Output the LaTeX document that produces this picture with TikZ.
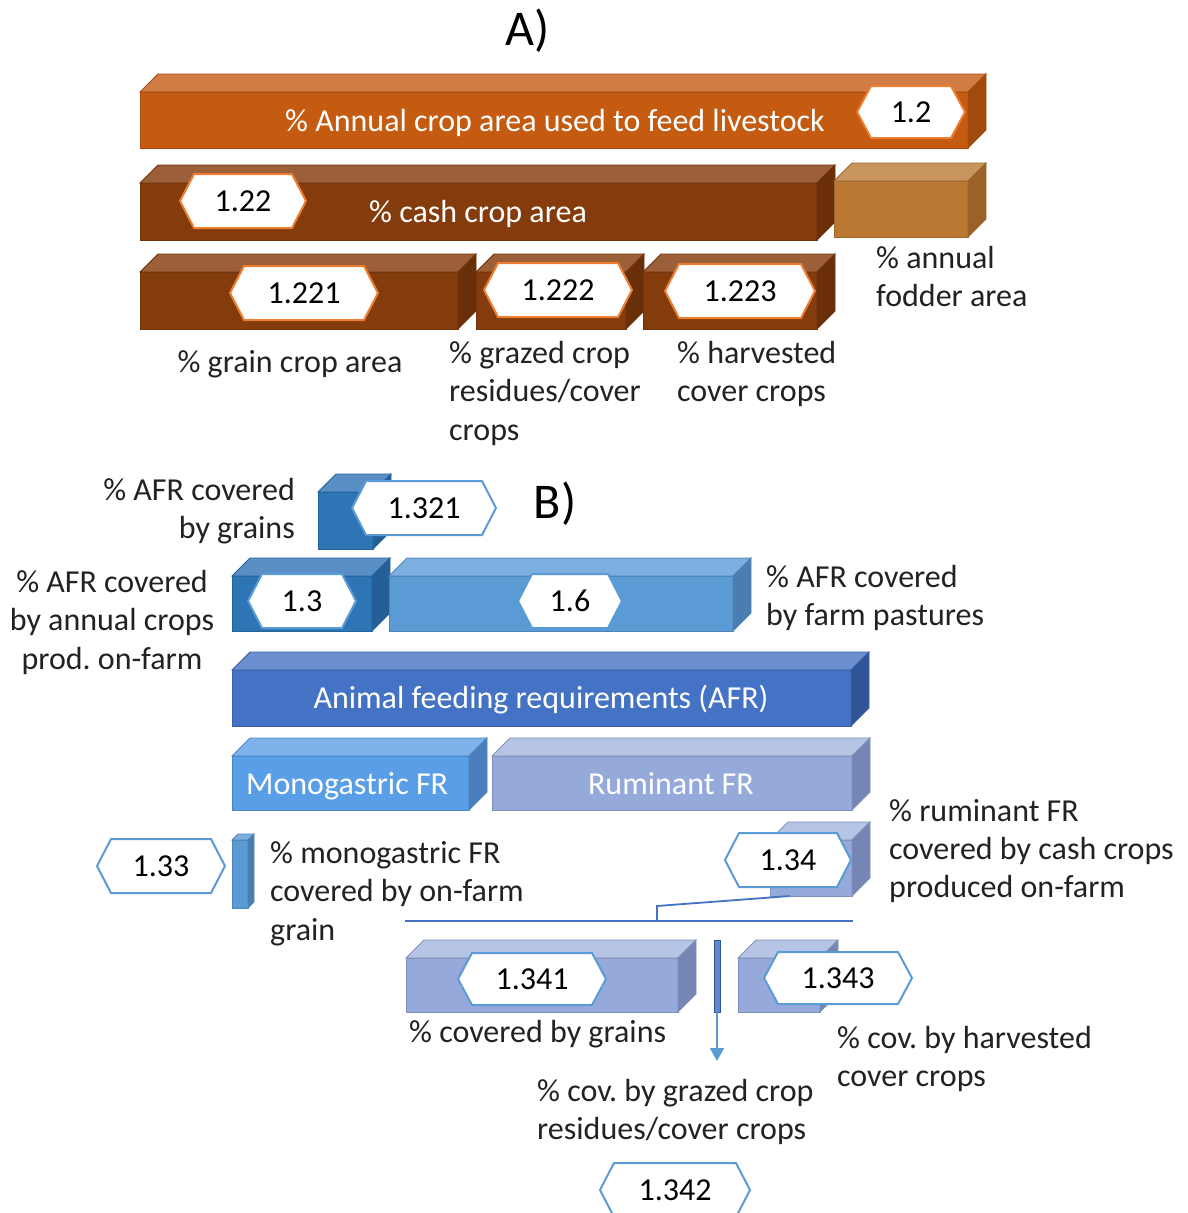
\documentclass[tikz,border=0pt]{standalone}
\usepackage{fontspec}
\setmainfont{Carlito}
\frenchspacing
\usetikzlibrary{arrows.meta}
\definecolor{orF}{HTML}{C55A11}\definecolor{orT}{HTML}{D27C45}\definecolor{orS}{HTML}{A04A0E}
\definecolor{brF}{HTML}{843C0C}\definecolor{brT}{HTML}{9C6038}\definecolor{brS}{HTML}{692F09}
\definecolor{tnF}{HTML}{BA7833}\definecolor{tnT}{HTML}{C9955E}\definecolor{tnS}{HTML}{9A6228}
\definecolor{dbF}{HTML}{2E75B6}\definecolor{dbT}{HTML}{5A8FC6}\definecolor{dbS}{HTML}{245F98}
\definecolor{pbF}{HTML}{5B9BD5}\definecolor{pbT}{HTML}{7DAFE0}\definecolor{pbS}{HTML}{4A7EB0}
\definecolor{afF}{HTML}{4472C4}\definecolor{afT}{HTML}{6A8ECF}\definecolor{afS}{HTML}{2F5597}
\definecolor{moF}{HTML}{599EE6}\definecolor{moT}{HTML}{7EB2EA}\definecolor{moS}{HTML}{4A7FBC}
\definecolor{ruF}{HTML}{95A9DA}\definecolor{ruT}{HTML}{B6C4E6}\definecolor{ruS}{HTML}{7586B5}
\definecolor{hexO}{HTML}{ED7D31}\definecolor{hexB}{HTML}{5B9BD5}
\definecolor{lbl}{HTML}{222222}
\newcommand\cubebox[8]{%
  \filldraw[fill=#6,draw=#6!85!black,line width=0.8pt] (#1,#2) rectangle (#3,#4);
  \filldraw[fill=#7,draw=#6!85!black,line width=0.8pt] (#1,#2) -- ({#1+#5},{#2-#5}) -- ({#3+#5},{#2-#5}) -- (#3,#2) -- cycle;
  \filldraw[fill=#8,draw=#6!85!black,line width=0.8pt] (#3,#2) -- ({#3+#5},{#2-#5}) -- ({#3+#5},{#4-#5}) -- (#3,#4) -- cycle;
}
\newcommand\hexlab[7]{%
  \filldraw[fill=white,draw=#6,line width=2pt] ({#2-#4},#3) -- ({#2-#4+14},{#3-#5}) -- ({#2+#4-14},{#3-#5}) -- ({#2+#4},#3) -- ({#2+#4-14},{#3+#5}) -- ({#2-#4+14},{#3+#5}) -- cycle;
  \node[numtext] (#1) at (#2,{#3+10}) {#7};
}
\tikzset{
  base/.style={inner sep=0pt,font=\fontsize{32}{38.5}\selectfont},
  numtext/.style={base,anchor=base,text=black},
  intext/.style={base,anchor=base,text=white},
  lblL/.style={base,anchor=base west,text=lbl},
  lblC/.style={base,anchor=base,text=lbl},
  lblR/.style={base,anchor=base east,text=lbl},
  title/.style={inner sep=0pt,anchor=base,font=\fontsize{50}{60}\selectfont,text=black},
  conn/.style={draw=afF,line width=1.8pt},
}
\begin{document}
\begin{tikzpicture}[x=1pt,y=-1pt]
\fill[white] (0,0) rectangle (1187,1213);
\useasboundingbox (0,0) rectangle (1187,1213);
\clip (0,0) rectangle (1187,1213);
% ---------- A ----------
\node[title] (tA) at (528,45) {A)};
\cubebox{140}{92}{968}{148}{18}{orF}{orT}{orS}
\node[intext] (tAnnual) at (555,131) {\% Annual crop area used to feed livestock};
\hexlab{h12}{911}{112}{54}{26}{hexO}{1.2}
\cubebox{140}{183}{817}{240}{18}{brF}{brT}{brS}
\node[intext] (tCash) at (478,222) {\% cash crop area};
\hexlab{h122}{243}{201}{63}{27}{hexO}{1.22}
\cubebox{834}{181}{968}{237}{18}{tnF}{tnT}{tnS}
\node[lblL] (tFod1) at (876,268) {\% annual};
\node[lblL] (tFod2) at (876,306) {fodder area};
\cubebox{140}{272}{458}{329}{18}{brF}{brT}{brS}
\cubebox{476}{272}{626}{329}{18}{brF}{brT}{brS}
\cubebox{643}{272}{817}{329}{18}{brF}{brT}{brS}
\hexlab{h1221}{304}{293}{74}{27}{hexO}{1.221}
\hexlab{h1222}{558}{290}{74}{27}{hexO}{1.222}
\hexlab{h1223}{740}{291}{75}{27}{hexO}{1.223}
\node[lblC] (tGrain) at (290,372) {\% grain crop area};
\node[lblL] (tGr1) at (449,363) {\% grazed crop};
\node[lblL] (tGr2) at (449,401) {residues/cover};
\node[lblL] (tGr3) at (449,440) {crops};
\node[lblL] (tHa1) at (677,363) {\% harvested};
\node[lblL] (tHa2) at (677,401) {cover crops};
% ---------- B ----------
\node[title] (tB) at (555,518) {B)};
\cubebox{318}{492}{373}{549}{18}{dbF}{dbT}{dbS}
\hexlab{h1321}{424}{508}{72}{27}{hexB}{1.321}
\node[lblR] (tAg1) at (295,500) {\% AFR covered};
\node[lblR] (tAg2) at (295,538) {by grains};
\cubebox{232}{576}{372}{631}{18}{dbF}{dbT}{dbS}
\cubebox{389}{576}{733}{631}{18}{pbF}{pbT}{pbS}
\hexlab{h13}{302}{601}{54}{27}{hexB}{1.3}
\hexlab{h16}{570}{601}{52}{27}{hexB}{1.6}
\node[lblC] (tAa1) at (112,592) {\% AFR covered};
\node[lblC] (tAa2) at (112,630) {by annual crops};
\node[lblC] (tAa3) at (112,669) {prod. on-farm};
\node[lblL] (tAp1) at (766,587) {\% AFR covered};
\node[lblL] (tAp2) at (766,625) {by farm pastures};
\cubebox{232}{670}{851}{726}{18}{afF}{afT}{afS}
\node[intext] (tAFR) at (541,708) {Animal feeding requirements (AFR)};
\cubebox{232}{756}{469}{810}{18}{moF}{moT}{moS}
\node[intext,anchor=base west] (tMono) at (246,794) {Monogastric FR};
\cubebox{492}{756}{852}{810}{18}{ruF}{ruT}{ruS}
\node[intext] (tRum) at (671,794) {Ruminant FR};
% monogastric on-farm grain
\cubebox{232}{840}{248}{908}{6}{pbF}{pbT}{pbS}
\hexlab{h133}{161}{866}{64}{27}{hexB}{1.33}
\node[lblL] (tMg1) at (270,863) {\% monogastric FR};
\node[lblL] (tMg2) at (270,901) {covered by on-farm};
\node[lblL] (tMg3) at (270,940) {grain};
% ruminant cash crops
\cubebox{770}{840}{852}{896}{18}{ruF}{ruT}{ruS}
\hexlab{h134}{788}{860}{63}{27}{hexB}{1.34}
\node[lblL] (tRc1) at (889,821) {\% ruminant FR};
\node[lblL] (tRc2) at (889,859) {covered by cash crops};
\node[lblL] (tRc3) at (889,897) {produced on-farm};
% connectors
\coordinate (cFrom) at (790,896);
\coordinate (cBend) at (657,906);
\coordinate (cJoin) at (657,921);
\coordinate (cLeft) at (405,921);
\coordinate (cRight) at (853,921);
\draw[conn] (cFrom) -- (cBend) -- (cJoin);
\draw[conn] (cLeft) -- (cRight);
% bottom boxes
\cubebox{406}{958}{678}{1012}{18}{ruF}{ruT}{ruS}
\hexlab{h1341}{532}{979}{74}{26}{hexB}{1.341}
\filldraw[fill=afF!85!white,draw=afS,line width=0.8pt] (714,940) rectangle (720,1012);
\coordinate (aTop) at (717,1012);
\coordinate (aEnd) at (717,1061);
\draw[draw=hexB,line width=1.5pt,-{Triangle[width=14pt,length=13pt]}] (aTop) -- (aEnd);
\cubebox{738}{958}{820}{1012}{18}{ruF}{ruT}{ruS}
\hexlab{h1343}{838}{978}{74}{26}{hexB}{1.343}
\node[lblL] (tCg) at (409,1042) {\% covered by grains};
\node[lblL] (tCh1) at (837,1048) {\% cov. by harvested};
\node[lblL] (tCh2) at (837,1086) {cover crops};
\node[lblL] (tCz1) at (537,1101) {\% cov. by grazed crop};
\node[lblL] (tCz2) at (537,1139) {residues/cover crops};
\hexlab{h1342}{675}{1190}{75}{27}{hexB}{1.342}
\end{tikzpicture}
\end{document}
